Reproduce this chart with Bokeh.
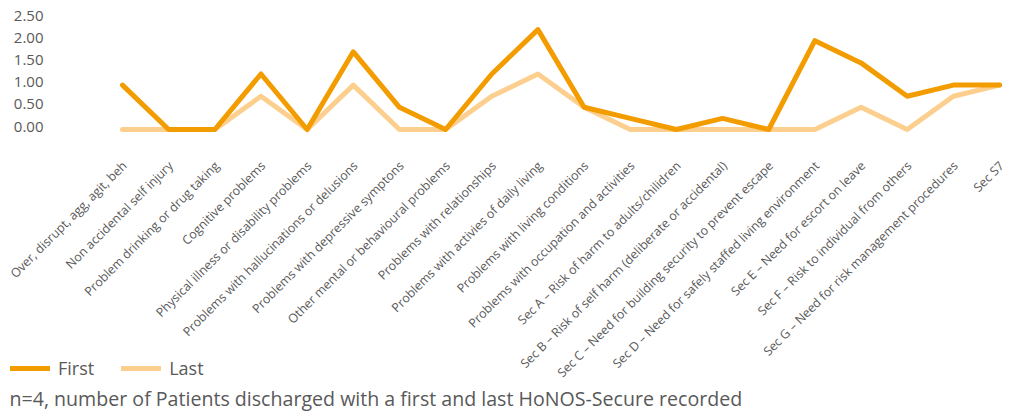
import math
from bokeh.plotting import figure
from bokeh.models import (ColumnDataSource, Legend, LegendItem, Label, Range1d)
from bokeh.core.properties import value
from bokeh.embed import file_html
from bokeh.resources import INLINE

categories = [
    "Over, disrupt, agg, agit, beh",
    "Non accidental self injury",
    "Problem drinking or drug taking",
    "Cognitive problems",
    "Physical illness or disability problems",
    "Problems with hallucinations or delusions",
    "Problems with depressive symptons",
    "Other mental or behavioural problems",
    "Problems with relationships",
    "Problems with activies of daily living",
    "Problems with living conditions",
    "Problems with occupation and activities",
    "Sec A \u2013 Risk of harm to adults/chilidren",
    "Sec B \u2013 Risk of self harm (deliberate or accidental)",
    "Sec C \u2013 Need for building security to prevent escape",
    "Sec D \u2013 Need for safely staffed living environment",
    "Sec E \u2013 Need for escort on leave",
    "Sec F \u2013 Risk to individual from others",
    "Sec G \u2013 Need for risk management procedures",
    "Sec S7",
]
first = [1.0, 0.0, 0.0, 1.25, 0.0, 1.75, 0.5, 0.0, 1.25, 2.25,
         0.5, 0.25, 0.0, 0.25, 0.0, 2.0, 1.5, 0.75, 1.0, 1.0]
last = [0.0, 0.0, 0.0, 0.75, 0.0, 1.0, 0.0, 0.0, 0.75, 1.25,
        0.5, 0.0, 0.0, 0.0, 0.0, 0.0, 0.5, 0.0, 0.75, 1.0]
y_ticks = [0.0, 0.5, 1.0, 1.5, 2.0, 2.5]
y_tick_labels = ["0.00", "0.50", "1.00", "1.50", "2.00", "2.50"]
footnote = "n=4, number of Patients discharged with a first and last HoNOS-Secure recorded"

FONT = "Open Sans"
TXT = "#595959"
C_FIRST = "#F39C00"
C_LAST = "#FDCF8F"

W, H = 1011, 411
# layout of the plotting area (pixels)
X0_PX, DX_PX = 122.0, 46.16      # first category position, category spacing
Y0_PX, DY_PX = 129.0, 44.4       # zero line position, pixels per unit

x_start = -X0_PX / DX_PX
x_end = x_start + W / DX_PX
y_end = Y0_PX / DY_PX
y_start = y_end - H / DY_PX

idx = list(range(len(categories)))
src = ColumnDataSource(dict(x=idx, first=first, last=last))

p = figure(width=W, height=H, output_backend="svg", toolbar_location=None,
           x_range=Range1d(x_start, x_end), y_range=Range1d(y_start, y_end),
           min_border=0, x_axis_location=None, y_axis_location=None)
p.outline_line_color = None
p.grid.visible = False
p.background_fill_color = None
p.border_fill_color = "white"

r_last = p.line("x", "last", source=src, line_color=C_LAST, line_width=5,
                line_join="round", line_cap="round")
r_first = p.line("x", "first", source=src, line_color=C_FIRST, line_width=5,
                 line_join="round", line_cap="round")

# value-axis tick labels
ysrc = ColumnDataSource(dict(
    x=[(43 - X0_PX) / DX_PX] * len(y_ticks),
    y=[t + 3 / DY_PX for t in y_ticks],
    t=y_tick_labels))
p.text("x", "y", text="t", source=ysrc, text_font=value(FONT),
       text_font_size="15px", text_color=TXT, text_align="right",
       text_baseline="middle")

# category tick labels (rotated 45 degrees)
csrc = ColumnDataSource(dict(
    x=[i + 2 / DX_PX for i in idx],
    y=[-34 / DY_PX] * len(idx),
    t=categories))
p.text("x", "y", text="t", source=csrc, angle=math.pi / 4,
       text_font=value(FONT), text_font_size="12.4px", text_color=TXT,
       text_align="right", text_baseline="middle")

legend = Legend(items=[LegendItem(label="First", renderers=[r_first]),
                       LegendItem(label="Last", renderers=[r_last])],
                orientation="horizontal", location=(10, 31),
                label_text_font=FONT, label_text_font_size="18px",
                label_text_color=TXT, glyph_width=40, glyph_height=20,
                label_height=20, label_standoff=8, spacing=27, padding=0,
                margin=0, border_line_color=None, background_fill_alpha=0)
p.add_layout(legend, "center")

note = Label(x=9, y=13, x_units="screen", y_units="screen", text=footnote,
             text_font=FONT, text_font_size="19.6px", text_color=TXT,
             text_baseline="middle")
p.add_layout(note)

open("out.html", "w").write(file_html(p, INLINE))
